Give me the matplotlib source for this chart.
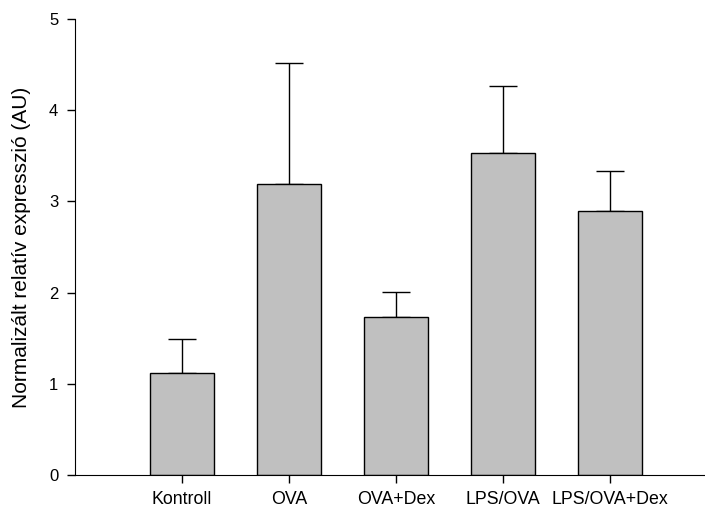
import matplotlib
matplotlib.use('Agg')
import matplotlib.pyplot as plt
import numpy as np

plt.rcParams['font.family'] = ['Liberation Sans', 'DejaVu Sans']

# adatok
groups = ['Kontroll', 'OVA', 'OVA+Dex', 'LPS/OVA', 'LPS/OVA+Dex']
means = [1.12, 3.19, 1.73, 3.53, 2.89]
err_up = [0.37, 1.33, 0.28, 0.73, 0.44]

fig = plt.figure(figsize=(7.05, 5.08), dpi=100)
ax = fig.add_axes([75/705, 33/508, 630/705, 456/508])

x = np.arange(len(groups))
lower = np.zeros(len(groups))
ax.bar(x, means, width=0.6, color='#c0c0c0', edgecolor='black', linewidth=1.0, zorder=2)
ax.errorbar(x, means, yerr=[lower, err_up], fmt='none', ecolor='black',
            elinewidth=1.0, capsize=10, capthick=1.0, zorder=1)

ax.set_xlim(-1, 4.89)
ax.set_ylim(0, 5)
ax.set_xticks(x)
ax.set_xticklabels(groups, fontsize=12.8)
ax.set_yticks([0, 1, 2, 3, 4, 5])
ax.tick_params(axis='y', labelsize=12, length=6, width=1, direction='out', pad=6)
ax.tick_params(axis='x', length=6, width=1, direction='out', pad=5.5)
ax.set_ylabel('Normalizált relatív expresszió (AU)', fontsize=15, labelpad=13)

ax.spines['top'].set_visible(False)
ax.spines['right'].set_visible(False)

fig.savefig('out.png', dpi=100)
